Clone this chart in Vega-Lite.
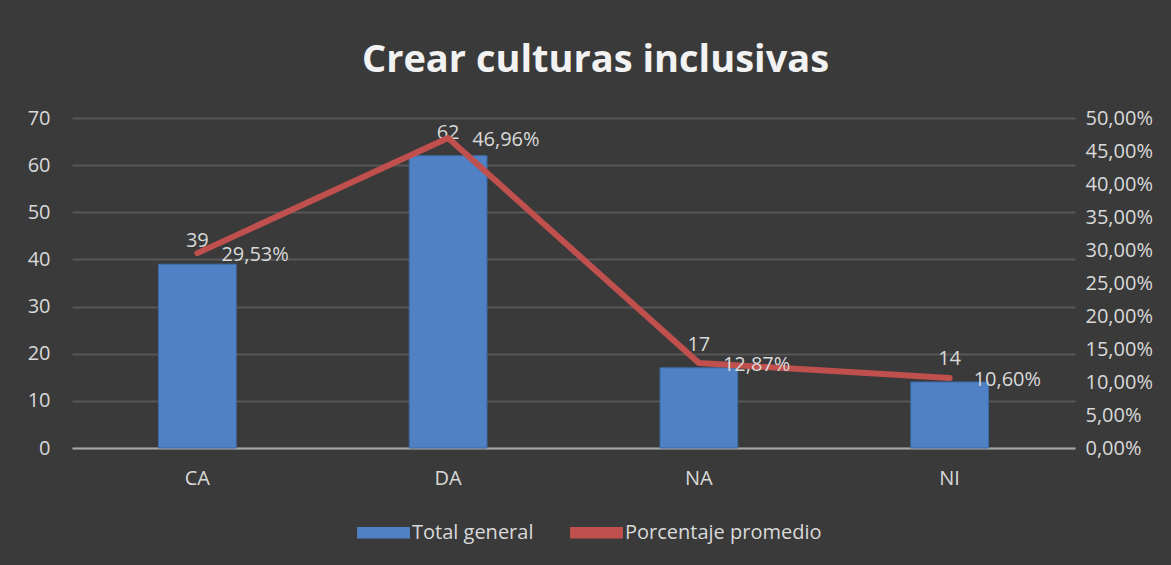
{
  "$schema": "https://vega.github.io/schema/vega-lite/v6.json",
  "width": 1003,
  "height": 330,
  "autosize": {"type": "none"},
  "padding": {"left": 72, "top": 118, "right": 96, "bottom": 117},
  "background": "#3a3a3a",
  "title": {
    "text": "Crear culturas inclusivas",
    "font": "Open Sans",
    "fontSize": 38,
    "fontWeight": "bold",
    "color": "#f2f2f2",
    "anchor": "middle",
    "dx": 22,
    "offset": 28
  },
  "config": {
    "locale": {"number": {"decimal": ",", "thousands": ".", "grouping": [3], "currency": ["", " €"]}},
    "view": {"stroke": null},
    "font": "Open Sans",
    "axis": {
      "labelFont": "Open Sans",
      "labelFontSize": 20,
      "labelColor": "#d9d9d9",
      "ticks": false,
      "domain": false,
      "title": null,
      "labelOverlap": false
    }
  },
  "data": {
    "values": [
      {"cat": "CA", "total": 39, "pct": 0.2953},
      {"cat": "DA", "total": 62, "pct": 0.4696},
      {"cat": "NA", "total": 17, "pct": 0.1287},
      {"cat": "NI", "total": 14, "pct": 0.1060}
    ]
  },
  "encoding": {
    "x": {
      "field": "cat",
      "type": "nominal",
      "sort": null,
      "scale": {"paddingInner": 0.69, "paddingOuter": 0.345},
      "axis": {"labelAngle": 0, "labelPadding": 20, "domain": true, "domainColor": "#a6a6a6", "domainWidth": 2}
    }
  },
  "layer": [
    {
      "layer": [
        {
          "mark": {"type": "bar", "stroke": "#3d6ba8", "strokeWidth": 1},
          "encoding": {
            "y": {
              "field": "total",
              "type": "quantitative",
              "scale": {"domain": [0, 70]},
              "axis": {"values": [0, 10, 20, 30, 40, 50, 60, 70], "grid": true, "gridColor": "#575757", "gridWidth": 2, "labelPadding": 22}
            },
            "color": {
              "datum": "Total general",
              "type": "nominal",
              "scale": {"domain": ["Total general", "Porcentaje promedio"], "range": ["#4f81c4", "#c0504d"]},
              "legend": {
                "orient": "none",
                "legendX": 285,
                "legendY": 388,
                "direction": "horizontal",
                "title": null,
                "labelFontSize": 20,
                "labelColor": "#d9d9d9",
                "labelFont": "Open Sans",
                "labelLimit": 0,
                "labelOffset": 2,
                "columnPadding": 36,
                "symbolType": "M-1,-0.22H1V0.22H-1Z",
                "symbolSize": 2800,
                "symbolStrokeWidth": 0,
                "encode": {"symbols": {"update": {"fill": {"scale": "color", "field": "value"}, "strokeWidth": {"value": 0}}}}
              }
            }
          }
        },
        {
          "mark": {"type": "text", "baseline": "bottom", "dy": -13, "fontSize": 20, "color": "#d9d9d9", "font": "Open Sans"},
          "encoding": {
            "y": {"field": "total", "type": "quantitative"},
            "text": {"field": "total", "type": "quantitative"}
          }
        }
      ]
    },
    {
      "layer": [
        {
          "mark": {"type": "line", "strokeWidth": 6, "strokeCap": "round", "strokeJoin": "round"},
          "encoding": {
            "y": {
              "field": "pct",
              "type": "quantitative",
              "scale": {"domain": [0, 0.5]},
              "axis": {"orient": "right", "format": ".2%", "values": [0, 0.05, 0.1, 0.15, 0.2, 0.25, 0.3, 0.35, 0.4, 0.45, 0.5], "tickCount": 11, "labelOverlap": false, "labelSeparation": 0, "grid": false, "labelPadding": 10}
            },
            "color": {"datum": "Porcentaje promedio", "type": "nominal"}
          }
        },
        {
          "mark": {"type": "text", "align": "left", "baseline": "middle", "dx": 24, "dy": 2, "fontSize": 20, "color": "#d9d9d9", "font": "Open Sans"},
          "encoding": {
            "y": {"field": "pct", "type": "quantitative"},
            "text": {"field": "pct", "type": "quantitative", "format": ".2%"}
          }
        }
      ]
    }
  ],
  "resolve": {"scale": {"y": "independent"}}
}
